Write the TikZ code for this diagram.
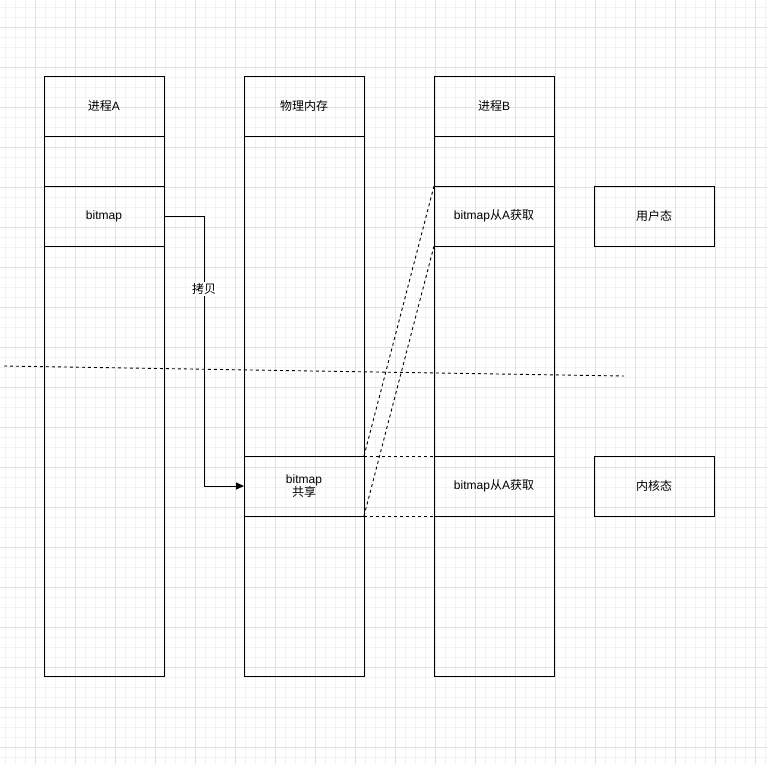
\documentclass[tikz,border=0pt]{standalone}
\usepackage{fontspec}
\setmainfont{Liberation Sans}
\newfontfamily\cjk{Noto Sans CJK SC}
\usetikzlibrary{arrows.meta}
\definecolor{gridminor}{HTML}{F2F2F2}
\definecolor{gridmajor}{HTML}{E2E2E2}
\begin{document}
\begin{tikzpicture}[x=1pt,y=-1pt,
  cell/.style={draw=black,line width=1pt,minimum width=120pt,inner sep=0pt,outer sep=0pt,anchor=north west,font=\fontsize{12}{14}\selectfont,align=center},
  dashln/.style={line width=0.9pt,dash pattern=on 3pt off 3pt},
  conn/.style={line width=1pt,-{Triangle[length=8pt,width=7pt]}}]
\useasboundingbox (0,0) rectangle (767,764);
\fill[white] (0,0) rectangle (767,764);
% grid
\foreach \x in {5,15,...,765} \draw[gridminor,line width=0.8pt] (\x,0) -- (\x,764);
\foreach \y in {7,17,...,763} \draw[gridminor,line width=0.8pt] (0,\y) -- (767,\y);
\foreach \x in {35,75,...,755} \draw[gridmajor,line width=0.8pt] (\x,0) -- (\x,764);
\foreach \y in {27,67,...,747} \draw[gridmajor,line width=0.8pt] (0,\y) -- (767,\y);
% column A
\node[cell,minimum height=60pt] (A1) at (44,76) {{\cjk 进程}A};
\node[cell,minimum height=50pt] (A2) at (44,136) {};
\node[cell,minimum height=60pt] (A3) at (44,186) {bitmap};
\node[cell,minimum height=430pt] (A4) at (44,246) {};
% column M
\node[cell,minimum height=60pt] (M1) at (244,76) {\cjk 物理内存};
\node[cell,minimum height=320pt] (M2) at (244,136) {};
\node[cell,minimum height=60pt] (M3) at (244,456) {bitmap\\[-1pt]{\cjk 共享}};
\node[cell,minimum height=160pt] (M4) at (244,516) {};
% column B
\node[cell,minimum height=60pt] (B1) at (434,76) {{\cjk 进程}B};
\node[cell,minimum height=50pt] (B2) at (434,136) {};
\node[cell,minimum height=60pt] (B3) at (434,186) {bitmap{\cjk 从}A{\cjk 获取}};
\node[cell,minimum height=210pt] (B4) at (434,246) {};
\node[cell,minimum height=60pt] (B5) at (434,456) {bitmap{\cjk 从}A{\cjk 获取}};
\node[cell,minimum height=160pt] (B6) at (434,516) {};
% state boxes
\node[cell,minimum height=60pt] (U) at (594,186) {\cjk 用户态};
\node[cell,minimum height=60pt] (K) at (594,456) {\cjk 内核态};
% copy arrow
\draw[conn] (A3.east) -- ++(40,0) |- (M3.west);
\node[fill=white,inner sep=1pt,font=\fontsize{12}{14}\selectfont\cjk] (copy) at (204,289) {拷贝};
% mapping dashed lines
\draw[dashln] (M3.north east) -- (B3.north west);
\draw[dashln] (M3.south east) -- (B3.south west);
\draw[dashln] (M3.north east) -- (B5.north west);
\draw[dashln] (M3.south east) -- (B5.south west);
% user/kernel boundary
\coordinate (bl) at (4,366);
\coordinate (br) at (624,376);
\draw[dashln] (bl) -- (br);
\end{tikzpicture}
\end{document}
